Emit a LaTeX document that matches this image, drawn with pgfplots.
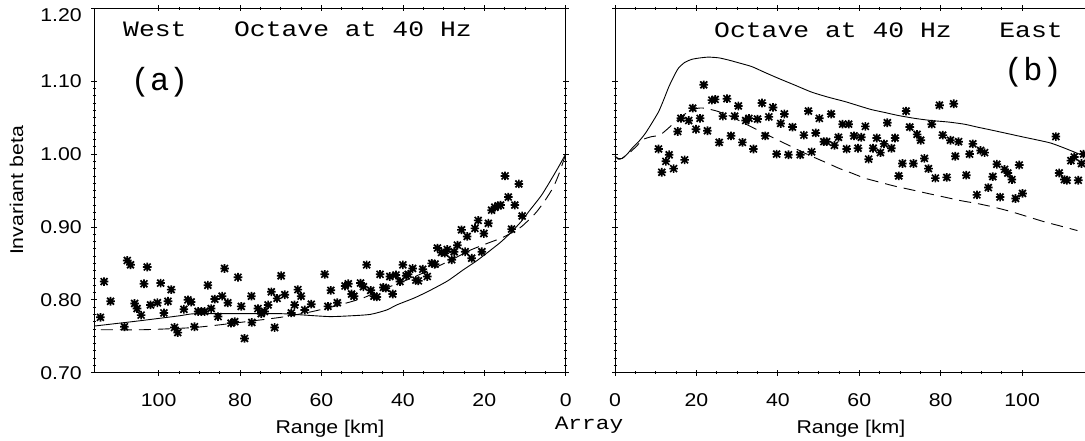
\documentclass[border=0pt]{standalone}
\usepackage{pgfplots}
\pgfplotsset{compat=1.18}
\usepackage{fontspec}
\setmainfont{Liberation Sans}[FakeStretch=1.15]
\newfontfamily\cour{Liberation Mono}[FakeStretch=1.2]
\newfontfamily\courn{Liberation Mono}

\pgfdeclareplotmark{ast}{%
  \pgfpathmoveto{\pgfqpoint{-\pgfplotmarksize}{0pt}}\pgfpathlineto{\pgfqpoint{\pgfplotmarksize}{0pt}}%
  \pgfpathmoveto{\pgfqpoint{0pt}{-\pgfplotmarksize}}\pgfpathlineto{\pgfqpoint{0pt}{\pgfplotmarksize}}%
  \pgfpathmoveto{\pgfqpoint{-.8\pgfplotmarksize}{-.8\pgfplotmarksize}}\pgfpathlineto{\pgfqpoint{.8\pgfplotmarksize}{.8\pgfplotmarksize}}%
  \pgfpathmoveto{\pgfqpoint{-.8\pgfplotmarksize}{.8\pgfplotmarksize}}\pgfpathlineto{\pgfqpoint{.8\pgfplotmarksize}{-.8\pgfplotmarksize}}%
  \pgfusepathqstroke}

\pgfplotstableread{
x y
114.3 0.776
113.4 0.825
111.8 0.798
108.4 0.763
107.7 0.854
106.9 0.848
105.9 0.795
105.3 0.788
104.3 0.779
103.6 0.822
102.8 0.845
102.0 0.793
100.3 0.796
99.5 0.823
98.7 0.782
97.7 0.798
96.9 0.814
96.1 0.762
95.3 0.755
93.8 0.787
92.8 0.800
92.0 0.797
91.2 0.763
90.3 0.784
89.5 0.784
88.7 0.784
87.9 0.820
87.1 0.788
86.2 0.801
85.4 0.777
84.4 0.805
83.8 0.843
83.0 0.796
82.2 0.768
81.3 0.770
80.5 0.831
79.7 0.791
78.9 0.747
77.2 0.805
77.1 0.769
75.6 0.788
74.8 0.781
74.0 0.784
73.1 0.793
72.3 0.811
71.5 0.762
70.9 0.802
69.9 0.833
69.0 0.807
67.4 0.782
66.6 0.793
65.8 0.814
65.0 0.805
64.1 0.786
62.5 0.794
59.2 0.835
58.4 0.791
57.7 0.813
56.1 0.796
54.2 0.819
53.4 0.822
52.6 0.808
52.0 0.805
50.4 0.823
49.7 0.818
48.9 0.848
47.9 0.813
47.1 0.805
46.4 0.804
45.6 0.835
44.8 0.817
44.2 0.816
43.2 0.832
42.5 0.808
41.7 0.834
40.7 0.825
40.0 0.848
39.2 0.833
38.7 0.835
37.6 0.843
36.8 0.827
36.2 0.826
35.1 0.842
34.0 0.832
32.9 0.850
32.1 0.849
31.5 0.871
30.5 0.865
29.7 0.864
29.1 0.869
28.0 0.855
27.4 0.866
26.6 0.875
25.6 0.896
24.7 0.866
24.2 0.887
23.1 0.857
22.3 0.898
21.5 0.909
20.6 0.866
20.1 0.891
19.0 0.905
18.2 0.923
17.4 0.927
16.6 0.929
16.0 0.930
14.9 0.970
14.1 0.941
13.3 0.897
12.5 0.930
11.5 0.959
10.7 0.915
}\westpts

\pgfplotstableread{
x y
115.8 0.764
105 0.771
95 0.778
91 0.781
80 0.781
70 0.781
64 0.779
58 0.777
53 0.778
48 0.780
44 0.786
41.5 0.793
37 0.803
33.3 0.813
29 0.826
25.2 0.841
22 0.853
19.4 0.864
16 0.879
13.7 0.891
11 0.907
8.8 0.923
6 0.943
3.9 0.962
2 0.980
0 1.0
}\westsolid

\pgfplotstableread{
x y
114.2 0.759
103.6 0.759
91.3 0.762
81.5 0.768
70 0.776
63 0.783
56.9 0.791
50 0.802
45.6 0.813
40 0.825
33.3 0.841
28 0.855
23.5 0.868
19 0.878
15.3 0.886
11.2 0.899
9 0.910
7.1 0.921
5 0.937
3 0.955
1.5 0.975
0 1.0
}\westdash

\pgfplotstableread{
x y
10.7 1.007
11.5 0.975
12.5 0.990
13.3 0.999
14.4 0.980
15.4 1.031
16.2 1.049
17.1 0.992
18.1 1.046
19.1 1.063
19.9 1.034
20.9 1.049
21.8 1.095
22.7 1.032
23.8 1.074
24.6 1.075
25.6 1.016
26.5 1.052
27.5 1.076
28.5 1.025
29.4 1.052
30.3 1.066
31.3 1.016
32.1 1.046
32.9 1.049
34.0 1.007
35.0 1.048
36.1 1.070
36.9 1.025
37.8 1.051
38.8 1.064
39.7 1.000
40.7 1.042
41.6 1.055
42.6 0.999
43.6 1.037
45.5 0.999
46.4 1.026
47.5 1.059
48.3 1.003
49.3 1.029
50.2 1.049
51.3 1.017
52.0 1.017
53.1 1.055
53.9 1.012
54.9 1.023
55.9 1.041
56.9 1.007
57.4 1.041
58.7 1.025
59.7 1.008
60.5 1.023
61.5 1.038
62.3 0.993
63.4 1.008
64.3 1.022
65.2 1.002
66.1 1.014
66.9 1.043
67.9 1.008
68.8 1.022
69.7 0.970
70.6 0.987
71.5 1.059
72.4 1.037
73.3 0.987
74.2 1.027
75.1 1.019
76.0 0.994
77.0 0.980
77.8 1.041
78.7 0.967
79.7 1.067
80.5 1.026
81.5 0.968
82.4 1.019
83.2 1.069
83.6 0.997
84.4 1.017
86.3 0.971
87.1 1.000
87.9 1.014
88.9 0.944
89.8 1.005
90.8 1.002
91.7 0.954
92.8 0.969
93.8 0.986
94.6 0.941
95.7 0.979
96.5 0.974
97.5 0.965
98.4 0.939
99.3 0.985
100.1 0.946
108.3 1.024
109.1 0.974
110.4 0.965
111.0 0.964
112.0 0.991
112.8 0.996
113.8 0.964
114.6 0.987
115.1 1.000
}\eastpts

\pgfplotstableread{
x y
0 0.997
0.8 0.994
1.7 0.994
3 1.000
4.2 1.008
5.8 1.017
7.4 1.028
9 1.042
10.7 1.058
12 1.075
13.2 1.092
14.4 1.106
15.6 1.118
17.2 1.126
18.9 1.130
21 1.132
23 1.133
25.5 1.132
27.9 1.129
30.5 1.125
33.6 1.120
36.8 1.112
40.1 1.104
44 1.095
48.3 1.085
52.4 1.078
56.5 1.072
60 1.066
63 1.061
66.3 1.057
69.5 1.053
73.6 1.049
77.7 1.046
81.8 1.044
85.8 1.041
89 1.037
92.4 1.033
96.5 1.028
100.6 1.023
104 1.019
107.1 1.015
110.5 1.008
113.6 1.001
115.8 0.996
}\eastsolid

\pgfplotstableread{
x y
0 0.997
0.8 0.993
1.7 0.994
3 0.999
4.2 1.005
5.5 1.012
6.6 1.019
7.8 1.022
9.1 1.024
10.3 1.025
11.5 1.028
12.8 1.034
14 1.040
15.2 1.046
16.4 1.052
17.8 1.057
19.3 1.061
20.5 1.063
22 1.063
25 1.059
27.9 1.053
30.8 1.045
33.6 1.037
36.8 1.028
40.1 1.019
43.4 1.010
46.7 1.001
49.5 0.994
52.4 0.987
55.2 0.980
58.1 0.974
61.3 0.967
64.6 0.962
68.7 0.956
72.8 0.951
76.8 0.946
80.9 0.941
85 0.936
89.1 0.932
93.2 0.927
97.3 0.921
101.4 0.914
105.5 0.907
109.6 0.901
113.6 0.895
}\eastdash

\pgfplotsset{
  panel/.style={
    scale only axis, width=471.4bp, height=364.4bp,
    anchor=south west,
    xmin=0, xmax=115.8, ymin=0.7, ymax=1.2,
    xtick={0,20,40,60,80,100},
    ytick={0.7,0.8,0.9,1.0,1.1},
    extra y ticks={1.2},
    extra y tick style={yticklabel style={yshift=-7bp}},
    minor x tick num=3, minor y tick num=9,
    tick align=center,
    major tick length=6bp, minor tick length=3bp,
    axis line style={line width=0.8bp, black},
    every tick/.style={line width=0.7bp, black},
    tick label style={font=\fontsize{18.5bp}{22bp}\selectfont},
    /pgf/number format/assume math mode=true,
    yticklabel style={xshift=-6bp, /pgf/number format/fixed, /pgf/number format/fixed zerofill, /pgf/number format/precision=2},
    xticklabel style={yshift=-14bp},
    clip=false,
  },
  pts/.style={only marks, mark=ast, mark size=4.3bp, mark options={line width=1.7bp, black}},
  solidc/.style={no marks, black, line width=0.9bp, smooth, tension=0.4},
  dashc/.style={no marks, black, line width=0.9bp, dash pattern=on 12bp off 7bp, smooth, tension=0.4},
}

\begin{document}
\begin{tikzpicture}
\begin{axis}[panel, at={(94.3bp,68.3bp)}, x dir=reverse]
  \addplot[solidc] table {\westsolid};
  \addplot[dashc] table {\westdash};
  \addplot[pts] table {\westpts};
\end{axis}
\begin{axis}[panel, at={(615bp,68.3bp)}, ytick pos=left, yticklabels={}, extra y tick labels={}]
  \addplot[solidc] table {\eastsolid};
  \addplot[dashc] table {\eastdash};
  \addplot[pts] table {\eastpts};
\end{axis}
% titles and labels
\node[anchor=base west, inner sep=0pt, font=\cour\fontsize{22bp}{26bp}\selectfont] at (123bp,404.3bp) {West\ \ \ Octave at 40 Hz};
\node[anchor=base west, inner sep=0pt, font=\courn\fontsize{32bp}{36bp}\selectfont] at (130.6bp,350.3bp) {(a)};
\node[anchor=base west, inner sep=0pt, font=\cour\fontsize{22bp}{26bp}\selectfont] at (714bp,403bp) {Octave at 40 Hz\ \ \ East};
\node[anchor=base west, inner sep=0pt, font=\courn\fontsize{32bp}{36bp}\selectfont] at (1003.9bp,360bp) {(b)};
\node[anchor=base, inner sep=0pt, font=\fontsize{18.5bp}{22bp}\selectfont] at (330bp,8bp) {Range [km]};
\node[anchor=base, inner sep=0pt, font=\fontsize{18.5bp}{22bp}\selectfont] at (851bp,8bp) {Range [km]};
\node[anchor=base, inner sep=0pt, rotate=90, font=\fontsize{18.5bp}{22bp}\selectfont] at (23bp,250.5bp) {Invariant beta};
\node[anchor=base, inner sep=0pt, font=\cour\fontsize{19bp}{22bp}\selectfont] at (589bp,11.7bp) {Array};
\pgfresetboundingbox
\path[use as bounding box] (0,0) rectangle (1085bp,441bp);
\end{tikzpicture}
\end{document}
